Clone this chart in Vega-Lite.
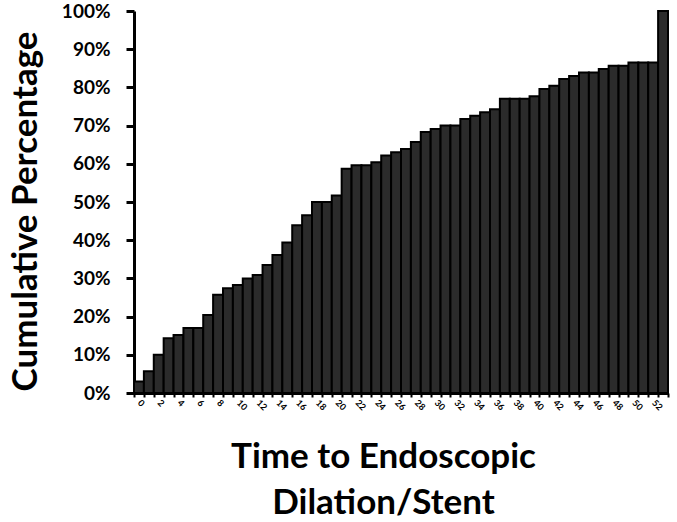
{
  "$schema": "https://vega.github.io/schema/vega-lite/v6.json",
  "autosize": {"type": "none"},
  "width": 534,
  "height": 382,
  "padding": {"left": 134, "top": 11, "right": 9, "bottom": 129},
  "background": "white",
  "config": {"view": {"stroke": null}, "font": "Lato"},
  "data": {"values": [
    {"t": 0, "p": 3.0}, {"t": 1, "p": 5.7}, {"t": 2, "p": 10.0}, {"t": 3, "p": 14.3},
    {"t": 4, "p": 15.2}, {"t": 5, "p": 17.0}, {"t": 6, "p": 17.0}, {"t": 7, "p": 20.4},
    {"t": 8, "p": 25.7}, {"t": 9, "p": 27.4}, {"t": 10, "p": 28.3}, {"t": 11, "p": 30.0},
    {"t": 12, "p": 30.9}, {"t": 13, "p": 33.5}, {"t": 14, "p": 36.1}, {"t": 15, "p": 39.4},
    {"t": 16, "p": 43.9}, {"t": 17, "p": 46.5}, {"t": 18, "p": 50.0}, {"t": 19, "p": 50.0},
    {"t": 20, "p": 51.7}, {"t": 21, "p": 58.7}, {"t": 22, "p": 59.6}, {"t": 23, "p": 59.6},
    {"t": 24, "p": 60.4}, {"t": 25, "p": 62.2}, {"t": 26, "p": 63.0}, {"t": 27, "p": 63.9},
    {"t": 28, "p": 65.7}, {"t": 29, "p": 68.3}, {"t": 30, "p": 69.1}, {"t": 31, "p": 70.0},
    {"t": 32, "p": 70.0}, {"t": 33, "p": 71.7}, {"t": 34, "p": 72.6}, {"t": 35, "p": 73.5},
    {"t": 36, "p": 74.3}, {"t": 37, "p": 77.0}, {"t": 38, "p": 77.0}, {"t": 39, "p": 77.0},
    {"t": 40, "p": 77.7}, {"t": 41, "p": 79.6}, {"t": 42, "p": 80.4}, {"t": 43, "p": 82.2},
    {"t": 44, "p": 83.0}, {"t": 45, "p": 83.9}, {"t": 46, "p": 83.9}, {"t": 47, "p": 84.8},
    {"t": 48, "p": 85.7}, {"t": 49, "p": 85.7}, {"t": 50, "p": 86.5}, {"t": 51, "p": 86.5},
    {"t": 52, "p": 86.5}, {"t": 53, "p": 100.0}
  ]},
  "mark": {"type": "bar", "fill": "#2b2b2b", "stroke": "#000000", "strokeWidth": 2},
  "encoding": {
    "x": {
      "field": "t", "type": "ordinal",
      "scale": {"paddingInner": 0, "paddingOuter": 0},
      "axis": {
        "title": ["Time to Endoscopic", "Dilation/Stent"],
        "titleFont": "Lato", "titleFontSize": 35, "titleFontWeight": "bold", "titleColor": "#000",
        "titlePadding": 28, "titleLineHeight": 46,
        "titleX": 249, "titleAlign": "center",
        "labelExpr": "datum.value % 2 == 0 ? datum.label : ''",
        "labelAngle": 45, "labelAlign": "left", "labelBaseline": "middle",
        "labelFontSize": 9, "labelFontWeight": "bold", "labelColor": "#000", "labelPadding": 4,
        "domainColor": "#000", "domainWidth": 3,
        "tickColor": "#000", "tickWidth": 2, "tickSize": 4, "tickBand": "extent"
      }
    },
    "y": {
      "field": "p", "type": "quantitative",
      "scale": {"domain": [0, 100]},
      "axis": {
        "title": "Cumulative Percentage",
        "titleFont": "Lato", "titleFontSize": 35, "titleFontWeight": "bold", "titleColor": "#000",
        "titlePadding": 18, "titleY": 200,
        "values": [0, 10, 20, 30, 40, 50, 60, 70, 80, 90, 100],
        "labelExpr": "datum.value + '%'",
        "labelFontSize": 19, "labelFontWeight": "bold", "labelColor": "#000", "labelPadding": 16,
        "domainColor": "#000", "domainWidth": 3,
        "tickColor": "#000", "tickWidth": 3, "tickSize": 8,
        "grid": false
      }
    }
  }
}
